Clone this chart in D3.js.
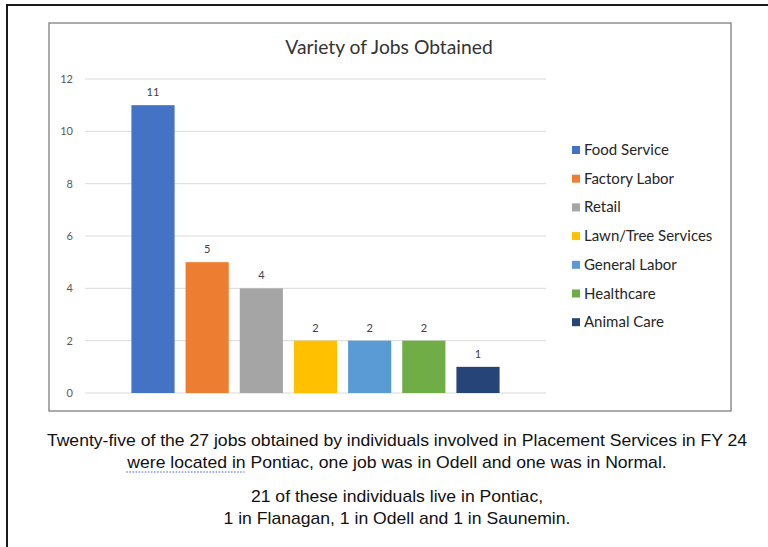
<!DOCTYPE html>
<html>
<head>
<meta charset="utf-8">
<script src="https://cdn.jsdelivr.net/npm/d3@7"></script>
<style>
  html, body { margin: 0; padding: 0; background: #fff; }
  svg { display: block; }
</style>
</head>
<body>
<svg id="chart" width="768" height="547"></svg>
<script>
// Jobs obtained through Placement Services, by job type
const categories = ["Food Service", "Factory Labor", "Retail", "Lawn/Tree Services", "General Labor", "Healthcare", "Animal Care"];
const jobCounts = [11, 5, 4, 2, 2, 2, 1];
const barColors = ["#4472C4", "#ED7D31", "#A5A5A5", "#FFC000", "#5B9BD5", "#70AD47", "#264478"];
const yTicks = [0, 2, 4, 6, 8, 10, 12];
const chartTitle = "Variety of Jobs Obtained";
const noteLines = [
  "Twenty-five of the 27 jobs obtained by individuals involved in Placement Services in FY 24",
  "were located in Pontiac, one job was in Odell and one was in Normal.",
  "21 of these individuals live in Pontiac,",
  "1 in Flanagan, 1 in Odell and 1 in Saunemin."
];

const svg = d3.select("#chart");
const uiFont = "Lato, 'Open Sans', sans-serif";

// page frame (top and left rules)
svg.append("line").attr("x1", 7).attr("x2", 768).attr("y1", 5).attr("y2", 5)
  .attr("stroke", "#1a1a1a").attr("stroke-width", 2);
svg.append("line").attr("x1", 7).attr("x2", 7).attr("y1", 4).attr("y2", 547)
  .attr("stroke", "#1a1a1a").attr("stroke-width", 2);

// chart area border
svg.append("rect").attr("x", 49).attr("y", 23).attr("width", 682).attr("height", 388)
  .attr("fill", "#fff").attr("stroke", "#7f7f7f").attr("stroke-width", 1.3);

svg.append("text").attr("x", 389).attr("y", 54).attr("text-anchor", "middle")
  .attr("font-family", uiFont).attr("font-size", 19.3).attr("fill", "#333")
  .text(chartTitle);

const plot = { left: 85, right: 546, top: 79, bottom: 393 };

const y = d3.scaleLinear().domain([0, 12]).range([plot.bottom, plot.top]);
const x = d3.scaleBand().domain(categories).range([plot.left, plot.right])
  .paddingInner(0.203).paddingOuter(0.857);

// gridlines
svg.append("g").selectAll("line").data(yTicks).join("line")
  .attr("x1", plot.left).attr("x2", plot.right)
  .attr("y1", d => y(d)).attr("y2", d => y(d))
  .attr("stroke", "#d9d9d9").attr("stroke-width", 1);

// y axis labels
const yAxis = d3.axisLeft(y).tickValues(yTicks).tickSize(0).tickPadding(0);
const yg = svg.append("g").attr("transform", `translate(73,0)`).call(yAxis);
yg.select(".domain").remove();
yg.selectAll("text").attr("font-family", uiFont).attr("font-size", 11).attr("fill", "#595959");

// bars
svg.append("g").selectAll("rect").data(categories).join("rect")
  .attr("x", d => x(d)).attr("width", x.bandwidth())
  .attr("y", (d, i) => y(jobCounts[i]))
  .attr("height", (d, i) => y(0) - y(jobCounts[i]))
  .attr("fill", (d, i) => barColors[i]);

// value labels
svg.append("g").selectAll("text").data(categories).join("text")
  .attr("x", d => x(d) + x.bandwidth() / 2)
  .attr("y", (d, i) => y(jobCounts[i]) - 9)
  .attr("text-anchor", "middle")
  .attr("font-family", uiFont).attr("font-size", 11).attr("fill", "#404040")
  .text((d, i) => jobCounts[i]);

// legend
const legend = svg.append("g").selectAll("g").data(categories).join("g")
  .attr("transform", (d, i) => `translate(572, ${150 + i * 28.7})`);
legend.append("rect").attr("x", 0).attr("y", -4).attr("width", 8).attr("height", 8)
  .attr("fill", (d, i) => barColors[i]);
legend.append("text").attr("x", 12).attr("y", 5)
  .attr("font-family", uiFont).attr("font-size", 15).attr("fill", "#262626")
  .text(d => d);

// notes below the chart, set slightly condensed
const noteFont = "'Liberation Sans', Arial, sans-serif";
const noteY = [446, 468, 502, 524];
const noteCenter = 397;
const noteScaleX = 1.1;
const notes = svg.append("g")
  .attr("transform", `translate(${noteCenter},0) scale(${noteScaleX},1)`);
noteLines.forEach((line, i) => {
  const t = notes.append("text").attr("x", 0).attr("y", noteY[i]).attr("text-anchor", "middle")
    .attr("font-family", noteFont).attr("font-size", 16).attr("fill", "#111")
    .text(line);
  if (i === 1) {
    // dotted underline beneath the opening words of the second line
    const node = t.node();
    const bb = node.getBBox();
    const w = node.getSubStringLength(0, "were located in".length);
    notes.append("line").attr("x1", bb.x).attr("x2", bb.x + w)
      .attr("y1", noteY[i] + 4).attr("y2", noteY[i] + 4)
      .attr("stroke", "#3b5bdb").attr("stroke-width", 1.2).attr("stroke-dasharray", "1.4,1.4");
  }
});
</script>
</body>
</html>
